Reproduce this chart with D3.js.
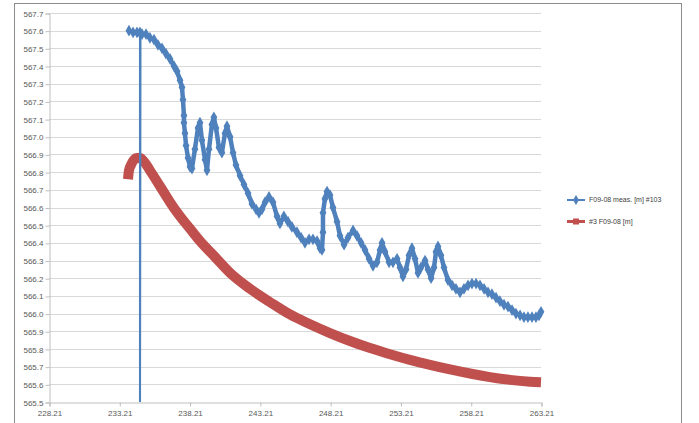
<!DOCTYPE html>
<html>
<head>
<meta charset="utf-8">
<script src="https://cdnjs.cloudflare.com/ajax/libs/d3/7.8.5/d3.min.js"></script>
<style>
  body { margin: 0; background: #fff; }
  svg { display: block; }
</style>
</head>
<body>
<div id="chart"></div>
<script>
let width_chart = 699;
let height_chart = 423;

// ticks
const xTicks = [228.21, 233.21, 238.21, 243.21, 248.21, 253.21, 258.21, 263.21];
const yTicks = [565.5, 565.6, 565.7, 565.8, 565.9, 566.0, 566.1, 566.2, 566.3, 566.4, 566.5, 566.6,
                566.7, 566.8, 566.9, 567.0, 567.1, 567.2, 567.3, 567.4, 567.5, 567.6, 567.7];

// series names
const seriesNames = ["F09-08 meas. [m] #103", "#3 F09-08 [m]"];

// F09-08 meas. [m] #103
const measX = [233.90, 234.19, 234.47, 234.68, 234.68, 234.72, 234.83, 235.11, 235.39, 235.68, 235.96,
  236.25, 236.53, 236.82, 237.10, 237.32, 237.53, 237.67, 237.74, 237.81, 237.81, 237.88, 237.96, 238.10,
  238.24, 238.38, 238.59, 238.81, 238.95, 239.09, 239.31, 239.45, 239.59, 239.80, 239.94, 240.09, 240.30,
  240.51, 240.73, 240.87, 241.09, 241.30, 241.51, 241.80, 242.08, 242.37, 242.65, 242.94, 243.15, 243.36,
  243.58, 243.86, 244.14, 244.43, 244.64, 244.92, 245.21, 245.49, 245.85, 246.14, 246.42, 246.71, 246.99,
  247.28, 247.49, 247.63, 247.70, 247.70, 247.84, 247.99, 248.20, 248.41, 248.70, 248.91, 249.20, 249.48,
  249.84, 250.12, 250.41, 250.69, 250.98, 251.26, 251.54, 251.76, 251.90, 252.11, 252.40, 252.68, 252.97,
  253.18, 253.39, 253.61, 253.82, 254.03, 254.25, 254.46, 254.67, 254.96, 255.17, 255.39, 255.60, 255.74,
  255.88, 256.09, 256.31, 256.59, 256.88, 257.16, 257.45, 257.73, 258.02, 258.30, 258.59, 258.87, 259.16,
  259.44, 259.72, 260.01, 260.29, 260.58, 260.86, 261.15, 261.43, 261.72, 262.00, 262.28, 262.57, 262.85,
  263.07, 263.21];
const measY = [567.60, 567.59, 567.59, 567.59, 565.00, 567.58, 567.58, 567.58, 567.56, 567.55, 567.52,
  567.50, 567.47, 567.44, 567.40, 567.37, 567.32, 567.28, 567.21, 567.12, 567.08, 567.02, 566.95, 566.88,
  566.83, 566.82, 566.93, 567.05, 567.08, 566.98, 566.87, 566.81, 566.93, 567.07, 567.11, 567.05, 566.94,
  566.91, 567.02, 567.06, 567.00, 566.91, 566.84, 566.78, 566.73, 566.68, 566.62, 566.59, 566.57, 566.59,
  566.63, 566.66, 566.63, 566.55, 566.51, 566.55, 566.52, 566.49, 566.46, 566.43, 566.40, 566.42, 566.42,
  566.41, 566.37, 566.36, 566.46, 566.57, 566.65, 566.69, 566.67, 566.60, 566.52, 566.44, 566.39, 566.43,
  566.47, 566.44, 566.40, 566.36, 566.31, 566.27, 566.29, 566.36, 566.40, 566.35, 566.29, 566.29, 566.31,
  566.26, 566.21, 566.25, 566.33, 566.37, 566.31, 566.23, 566.26, 566.30, 566.25, 566.20, 566.26, 566.35,
  566.38, 566.33, 566.26, 566.19, 566.16, 566.14, 566.12, 566.14, 566.16, 566.17, 566.17, 566.16, 566.14,
  566.12, 566.11, 566.09, 566.07, 566.05, 566.04, 566.02, 566.00, 565.99, 565.98, 565.98, 565.98, 565.98,
  565.99, 566.01];

// #3 F09-08 [m]
const calcX = [233.83, 233.90, 234.04, 234.26, 234.47, 234.68, 234.97, 235.39, 236.11, 236.82, 237.53,
  238.24, 238.95, 240.02, 241.09, 242.51, 243.93, 245.35, 246.78, 248.20, 249.62, 251.05, 252.47, 253.89,
  255.31, 256.74, 258.16, 259.58, 261.01, 262.43, 263.21];
const calcY = [566.76, 566.81, 566.84, 566.87, 566.88, 566.88, 566.86, 566.81, 566.72, 566.63, 566.55,
  566.48, 566.41, 566.32, 566.23, 566.14, 566.065, 565.995, 565.94, 565.89, 565.845, 565.805, 565.77, 565.738,
  565.71, 565.684, 565.661, 565.641, 565.625, 565.615, 565.612];

const blue = "#4f81bd";
const red = "#c0504d";

let svg = d3.select('#chart').append('svg')
    .attr('width', width_chart)
    .attr('height', height_chart);

// chart frame
svg.append("rect")
    .attr("x", 14.5).attr("y", 3.5)
    .attr("width", 667).attr("height", 440)
    .attr("fill", "#fff")
    .attr("stroke", "#8c8c8c");

var x = d3.scaleLinear().domain([228.21, 263.21]).range([49, 541]);
var y = d3.scaleLinear().domain([565.5, 567.7]).range([402, 13]);

// gridlines
svg.append("g")
  .selectAll("line")
  .data(yTicks.slice(1))
  .enter().append("line")
    .attr("x1", 49).attr("x2", 541)
    .attr("y1", function(d) { return Math.round(y(d)) + 0.5; })
    .attr("y2", function(d) { return Math.round(y(d)) + 0.5; })
    .attr("stroke", "#d9d9d9");

// axes
var yAxis = svg.append("g")
    .attr("transform", "translate(49.5,0.5)")
    .call(d3.axisLeft(y).tickValues(yTicks).tickSize(4).tickFormat(d3.format(".1f")));
var xAxis = svg.append("g")
    .attr("transform", "translate(0.5,402.5)")
    .call(d3.axisBottom(x).tickValues(xTicks).tickSize(4).tickFormat(d3.format(".2f")));

[yAxis, xAxis].forEach(function(a) {
  a.select(".domain").attr("stroke", "#bfbfbf");
  a.selectAll(".tick line").attr("stroke", "#bfbfbf");
  a.selectAll("text")
    .attr("fill", "#595959")
    .style("font-family", "'Liberation Sans', Arial, sans-serif")
    .style("font-size", "8px");
});
yAxis.selectAll("text").attr("x", -6).attr("dy", "0.32em");
xAxis.selectAll("text").attr("y", 8);

// clip to plot area
svg.append("clipPath").attr("id", "plot")
  .append("rect").attr("x", 49).attr("y", 5).attr("width", 500).attr("height", 397);

const calc = calcX.map(function(d, i) { return [d, calcY[i]]; });
const meas = measX.map(function(d, i) { return [d, measY[i]]; });

var line = d3.line()
    .x(function(d) { return x(d[0]); })
    .y(function(d) { return y(d[1]); });

var plot = svg.append("g").attr("clip-path", "url(#plot)");

// red series (dense square markers merge into a thick band)
plot.append("path")
    .datum(calc)
    .attr("d", line.curve(d3.curveMonotoneX))
    .attr("fill", "none")
    .attr("stroke", red)
    .attr("stroke-width", 10)
    .attr("stroke-linejoin", "round");
line.curve(d3.curveLinear);

// blue series: thin line including the drop, thick band for the rest
plot.append("path")
    .datum(meas)
    .attr("d", line)
    .attr("fill", "none")
    .attr("stroke", blue)
    .attr("stroke-width", 2);
plot.append("path")
    .datum(meas)
    .attr("d", d3.line()
        .defined(function(d) { return d[1] >= 565.5; })
        .x(function(d) { return x(d[0]); })
        .y(function(d) { return y(d[1]); }))
    .attr("fill", "none")
    .attr("stroke", blue)
    .attr("stroke-width", 4.5)
    .attr("stroke-linejoin", "round")
    .attr("stroke-linecap", "round");
plot.selectAll(".dm")
  .data(meas.filter(function(d) { return d[1] >= 565.5; }))
  .enter().append("path")
    .attr("class", "dm")
    .attr("d", d3.symbol().type(d3.symbolDiamond).size(40))
    .attr("transform", function(d) { return "translate(" + x(d[0]) + "," + y(d[1]) + ")"; })
    .attr("fill", blue);

// legend
var legend = svg.append("g").attr("transform", "translate(567,0)");
var items = legend.selectAll("g")
  .data(seriesNames)
  .enter().append("g")
    .attr("transform", function(d, i) { return "translate(0," + (200 + i * 21.5) + ")"; });
items.append("line")
    .attr("x1", 0).attr("x2", 18)
    .attr("stroke", function(d, i) { return i == 0 ? blue : red; })
    .attr("stroke-width", function(d, i) { return i == 0 ? 2 : 3; });
items.append("path")
    .attr("d", function(d, i) { return d3.symbol().type(i == 0 ? d3.symbolDiamond : d3.symbolSquare).size(i == 0 ? 30 : 36)(); })
    .attr("transform", "translate(9,0)")
    .attr("fill", function(d, i) { return i == 0 ? blue : red; });
items.append("text")
    .attr("x", 22)
    .attr("dy", "0.32em")
    .attr("fill", "#404040")
    .style("font-family", "'Liberation Sans', Arial, sans-serif")
    .style("font-size", "7px")
    .text(function(d) { return d; });
</script>
</body>
</html>
